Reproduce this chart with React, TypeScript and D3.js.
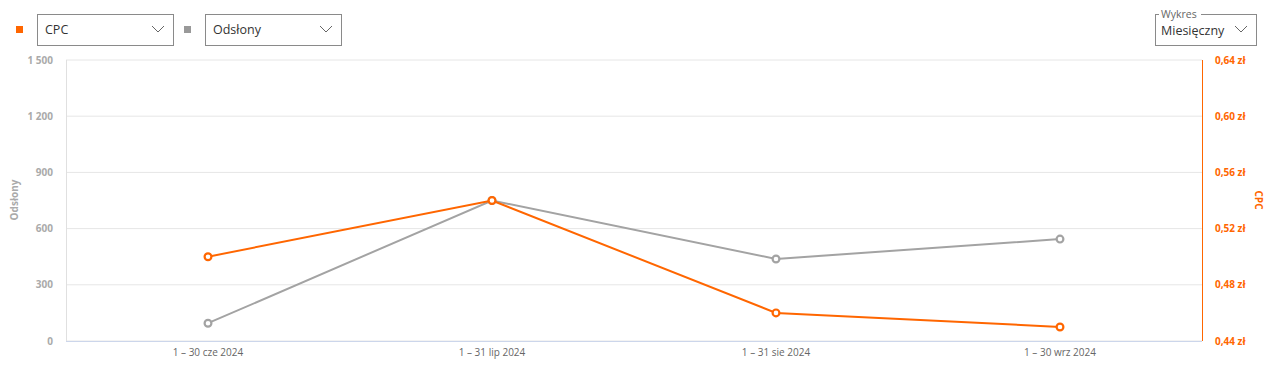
import React from "react";
import { scaleBand, scaleLinear, line } from "d3";

const periods = ["1 – 30 cze 2024", "1 – 31 lip 2024", "1 – 31 sie 2024", "1 – 30 wrz 2024"];
const odslony = [95, 750, 438, 544];
const cpc = [0.5, 0.54, 0.46, 0.45];
const leftTicks = [0, 300, 600, 900, 1200, 1500];
const rightTicks = [0.44, 0.48, 0.52, 0.56, 0.6, 0.64];

const ORANGE = "#ff6600";
const GRAY = "#a3a3a3";
const FONT = "'Open Sans', sans-serif";

function Chevron({ x, y }: { x: number; y: number }) {
  return <path d={`M${x - 6},${y - 3} L${x},${y + 3} L${x + 6},${y - 3}`} fill="none" stroke="#666" strokeWidth={1} />;
}

export default function App() {
  const W = 1274;
  const H = 367;
  const left = 66;
  const right = 1202;
  const top = 60;
  const bottom = 341;

  const x = scaleBand<string>().domain(periods).range([left, right]).padding(0);
  const yL = scaleLinear().domain([0, 1500]).range([bottom, top]);
  const yR = scaleLinear().domain([0.44, 0.64]).range([bottom, top]);
  const cx = (d: string) => (x(d) ?? 0) + x.bandwidth() / 2;

  const grayPath = line<number>().x((_, i) => cx(periods[i])).y((d) => yL(d))(odslony) ?? "";
  const orangePath = line<number>().x((_, i) => cx(periods[i])).y((d) => yR(d))(cpc) ?? "";

  const fmtL = (v: number) => (v >= 1000 ? `${Math.floor(v / 1000)} ${String(v % 1000).padStart(3, "0")}` : String(v));
  const fmtR = (v: number) => `${v.toFixed(2).replace(".", ",")} zł`;

  return (
    <svg width={W} height={H} style={{ position: "absolute", left: 0, top: 0, fontFamily: FONT }}>
      <rect width={W} height={H} fill="#fff" />
      {/* controls */}
      <rect x={16} y={26} width={7} height={7} fill={ORANGE} />
      <rect x={37.5} y={14.5} width={136} height={31} fill="#fff" stroke="#8a8a8a" />
      <text x={45} y={34} fontSize={12.5} fill="#333">CPC</text>
      <Chevron x={158} y={29} />
      <rect x={184} y={26} width={7} height={7} fill="#999" />
      <rect x={205.5} y={14.5} width={136} height={31} fill="#fff" stroke="#8a8a8a" />
      <text x={213} y={34} fontSize={12.5} fill="#333">Odsłony</text>
      <Chevron x={326} y={29} />
      <rect x={1155.5} y={14.5} width={101} height={31} fill="#fff" stroke="#8a8a8a" />
      <rect x={1159} y={8} width={42} height={10} fill="#fff" />
      <text x={1161} y={18} fontSize={10.5} fill="#666">Wykres</text>
      <text x={1161} y={35} fontSize={12.5} fill="#333">Miesięczny</text>
      <Chevron x={1241} y={29} />

      {/* grid */}
      {leftTicks.map((t) => (
        <line key={t} x1={left} x2={right} y1={yL(t)} y2={yL(t)} stroke="#e6e6e6" />
      ))}
      <line x1={left + 0.5} x2={left + 0.5} y1={top} y2={bottom} stroke="#e0e0e0" />
      <line x1={left} x2={right} y1={bottom + 0.5} y2={bottom + 0.5} stroke="#ccd6eb" />
      <line x1={right + 0.5} x2={right + 0.5} y1={top} y2={bottom} stroke={ORANGE} />

      {leftTicks.map((t) => (
        <text key={t} x={53} y={yL(t) + 3.5} fontSize={10} fontWeight="bold" fill="#aaa" textAnchor="end">
          {fmtL(t)}
        </text>
      ))}
      {rightTicks.map((t) => (
        <text key={t} x={1215} y={yR(t) + 3.5} fontSize={10} fontWeight="bold" fill={ORANGE}>
          {fmtR(t)}
        </text>
      ))}
      <text transform="translate(18,200) rotate(-90)" fontSize={10} fontWeight="bold" fill="#aaa" textAnchor="middle">
        Odsłony
      </text>
      <text transform="translate(1255,200) rotate(90)" fontSize={10} fontWeight="bold" fill={ORANGE} textAnchor="middle">
        CPC
      </text>
      {periods.map((p) => (
        <text key={p} x={cx(p)} y={356} fontSize={10} fill="#666" textAnchor="middle">
          {p}
        </text>
      ))}

      <path d={grayPath} fill="none" stroke={GRAY} strokeWidth={2} />
      {odslony.map((v, i) => (
        <circle key={i} cx={cx(periods[i])} cy={yL(v)} r={3.4} fill="#fff" stroke={GRAY} strokeWidth={2.2} />
      ))}
      <path d={orangePath} fill="none" stroke={ORANGE} strokeWidth={2} />
      {cpc.map((v, i) => (
        <circle key={i} cx={cx(periods[i])} cy={yR(v)} r={3.4} fill="#fff" stroke={ORANGE} strokeWidth={2.2} />
      ))}
    </svg>
  );
}
